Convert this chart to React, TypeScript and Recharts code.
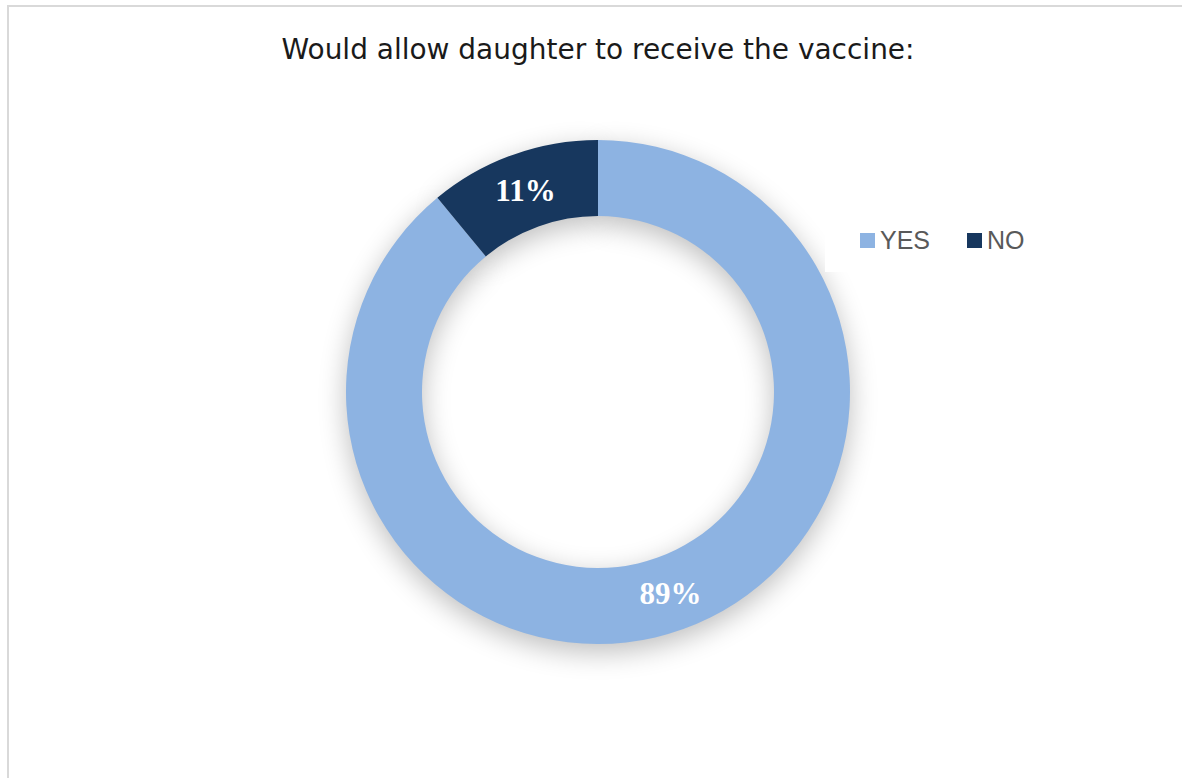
import React from 'react';
import { PieChart, Pie, Cell, Legend } from 'recharts';

const answers = ['YES', 'NO'];
const shares = [89, 11];
const sliceColors = ['#8db3e2', '#17375e'];

const chartTitle = 'Would allow daughter to receive the vaccine:';

const data = answers.map((name, i) => ({ name, value: shares[i] }));

const RADIAN = Math.PI / 180;

// white bold percentage in the middle of each ring segment
const renderLabel = (props: any) => {
  const { cx, cy, midAngle, innerRadius, outerRadius, value } = props;
  const r = (innerRadius + outerRadius) / 2;
  const x = cx + r * Math.cos(-midAngle * RADIAN);
  const y = cy + r * Math.sin(-midAngle * RADIAN);
  return (
    <text
      x={x}
      y={y}
      fill="#ffffff"
      textAnchor="middle"
      dominantBaseline="central"
      fontFamily="'Liberation Serif', 'Times New Roman', serif"
      fontWeight="bold"
      fontSize={31}
    >
      {`${value}%`}
    </text>
  );
};

// legend keeps the series order (YES first) on a white box
const renderLegend = () => (
  <div
    style={{
      background: '#ffffff',
      width: 175,
      height: 64,
      display: 'flex',
      alignItems: 'center',
      paddingLeft: 35,
      boxSizing: 'border-box',
    }}
  >
    {answers.map((name, i) => (
      <div key={name} style={{ display: 'flex', alignItems: 'center', marginRight: 37 }}>
        <span
          style={{
            display: 'inline-block',
            width: 15,
            height: 15,
            background: sliceColors[i],
            marginRight: 5,
          }}
        />
        <span
          style={{
            fontFamily: "'Liberation Sans', Arial, sans-serif",
            fontSize: 25,
            color: '#595959',
            lineHeight: '25px',
          }}
        >
          {name}
        </span>
      </div>
    ))}
  </div>
);

export default function App() {
  return (
    <div style={{ position: 'absolute', left: 0, top: 0, width: 1182, height: 778, background: '#ffffff' }}>
      <PieChart width={1182} height={778} margin={{ top: 0, right: 0, bottom: 0, left: 0 }}>
        <defs>
          <filter id="ringShadow" x="-30%" y="-30%" width="160%" height="160%">
            <feGaussianBlur in="SourceAlpha" stdDeviation="14" />
            <feOffset dx="0" dy="8" result="blurred" />
            <feComponentTransfer>
              <feFuncA type="linear" slope="0.26" />
            </feComponentTransfer>
          </filter>
        </defs>
        <rect x={8} y={6} width={1200} height={800} fill="none" stroke="#d9d9d9" strokeWidth={2} />
        <text
          x={598}
          y={59}
          textAnchor="middle"
          fontFamily="'DejaVu Sans', Tahoma, sans-serif"
          fontSize={29}
          fill="#1a1a1a"
          textLength={633}
          lengthAdjust="spacingAndGlyphs"
        >
          {chartTitle}
        </text>
        {/* soft shadow ring underneath */}
        <Pie
          data={data}
          dataKey="value"
          nameKey="name"
          cx={598}
          cy={392}
          innerRadius={176}
          outerRadius={252}
          startAngle={90}
          endAngle={-270}
          stroke="none"
          label={false}
          labelLine={false}
          legendType="none"
          isAnimationActive={false}
        >
          {data.map((d) => (
            <Cell key={d.name} fill="#000000" filter="url(#ringShadow)" />
          ))}
        </Pie>
        <Pie
          data={data}
          dataKey="value"
          nameKey="name"
          cx={598}
          cy={392}
          innerRadius={176}
          outerRadius={252}
          startAngle={90}
          endAngle={-270}
          stroke="none"
          label={renderLabel}
          labelLine={false}
          isAnimationActive={false}
        >
          {data.map((d, i) => (
            <Cell key={d.name} fill={sliceColors[i]} />
          ))}
        </Pie>
        <Legend
          content={renderLegend}
          wrapperStyle={{ left: 825, top: 208, width: 175, height: 64 }}
        />
      </PieChart>
    </div>
  );
}
